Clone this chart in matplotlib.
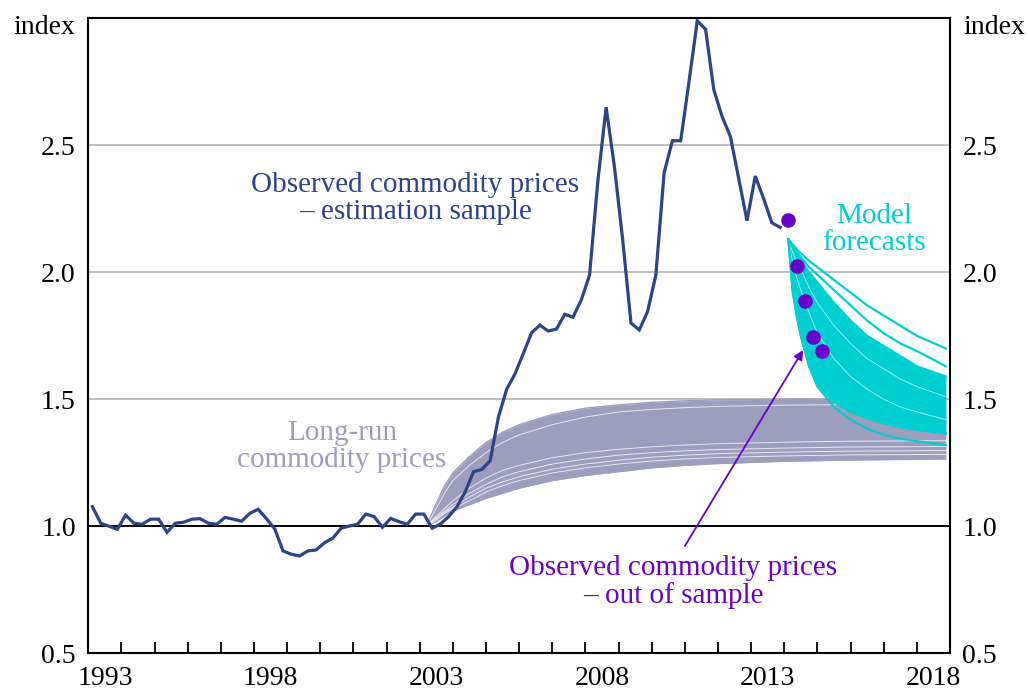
import numpy as np
import matplotlib.pyplot as plt
from matplotlib.ticker import FixedLocator, NullFormatter

# ---- data (index) ----
OBS_START = 1993.125  # quarterly, mid-quarter
observed = [1.077, 1.012, 1.000, 0.988, 1.044, 1.012, 1.008, 1.028, 1.028, 0.976,
            1.012, 1.016, 1.028, 1.030, 1.012, 1.008, 1.035, 1.028, 1.020, 1.051,
            1.067, 1.030, 0.990, 0.903, 0.890, 0.883, 0.903, 0.907, 0.935, 0.953,
            0.992, 1.001, 1.008, 1.048, 1.038, 0.996, 1.031, 1.018, 1.008, 1.048,
            1.048, 0.992, 1.009, 1.038, 1.077, 1.136, 1.215, 1.224, 1.258, 1.430,
            1.540, 1.600, 1.680, 1.762, 1.792, 1.769, 1.776, 1.835, 1.823, 1.891,
            1.989, 2.360, 2.650, 2.416, 2.127, 1.800, 1.773, 1.845, 1.989, 2.392,
            2.518, 2.518, 2.750, 2.990, 2.957, 2.718, 2.613, 2.534, 2.370, 2.203,
            2.379, 2.291, 2.195, 2.177]

oos_dates = [2014.125, 2014.375, 2014.625, 2014.875, 2015.125]
oos_values = [2.206, 2.025, 1.888, 1.746, 1.690]

# long-run commodity price fan (envelope + visible gaps between draws)
lr_dates = [2003.2, 2003.5, 2003.75, 2004.0, 2004.5, 2005.0, 2005.5, 2006.0, 2007.0,
            2008.0, 2009.0, 2010.0, 2011.0, 2012.0, 2014.0, 2016.0, 2018.875]
lr_upper = [1.0, 1.09, 1.16, 1.21, 1.275, 1.33, 1.37, 1.40, 1.44,
            1.465, 1.478, 1.488, 1.494, 1.498, 1.50, 1.50, 1.50]
lr_lower = [1.0, 1.02, 1.04, 1.06, 1.085, 1.11, 1.13, 1.15, 1.18,
            1.20, 1.215, 1.23, 1.24, 1.247, 1.256, 1.261, 1.265]
lr_gaps = [
    [1.0, 1.04, 1.07, 1.10, 1.15, 1.19, 1.22, 1.24, 1.27, 1.29, 1.303, 1.313, 1.32, 1.325, 1.331, 1.335, 1.337],
    [1.0, 1.035, 1.06, 1.085, 1.13, 1.165, 1.195, 1.215, 1.245, 1.265, 1.28, 1.29, 1.297, 1.302, 1.308, 1.312, 1.314],
    [1.0, 1.03, 1.055, 1.075, 1.115, 1.15, 1.175, 1.195, 1.225, 1.245, 1.26, 1.272, 1.28, 1.286, 1.292, 1.296, 1.298],
    [1.0, 1.025, 1.05, 1.07, 1.10, 1.135, 1.16, 1.18, 1.21, 1.23, 1.245, 1.257, 1.265, 1.271, 1.277, 1.281, 1.283],
    [1.0, 1.07, 1.13, 1.18, 1.24, 1.29, 1.33, 1.36, 1.40, 1.43, 1.45, 1.46, 1.467, 1.472, 1.477, 1.479, 1.48],
]

# model forecasts fan
fc_dates = [2014.125, 2014.25, 2014.375, 2014.5, 2014.75, 2015.0, 2015.5, 2016.0,
            2016.5, 2017.0, 2017.5, 2018.0, 2018.875]
fc_top1 = [2.13, 2.11, 2.09, 2.075, 2.045, 2.02, 1.97, 1.92, 1.87, 1.83, 1.79, 1.75, 1.70]
fc_top2 = [2.13, 2.10, 2.08, 2.06, 2.02, 1.99, 1.93, 1.87, 1.81, 1.76, 1.72, 1.69, 1.63]
fc_band_upper = [2.13, 2.10, 2.07, 2.05, 2.00, 1.96, 1.88, 1.81, 1.75, 1.71, 1.67, 1.63, 1.59]
fc_band_lower = [2.13, 1.93, 1.83, 1.75, 1.63, 1.555, 1.49, 1.45, 1.425, 1.405, 1.39, 1.38, 1.365]
fc_lowest = [2.13, 1.93, 1.83, 1.75, 1.63, 1.55, 1.47, 1.42, 1.385, 1.36, 1.345, 1.335, 1.32]
fc_gaps = [
    [2.13, 2.08, 2.04, 2.01, 1.94, 1.88, 1.79, 1.72, 1.66, 1.62, 1.58, 1.55, 1.51],
    [2.13, 2.04, 1.98, 1.93, 1.84, 1.76, 1.66, 1.59, 1.54, 1.50, 1.47, 1.45, 1.42],
]

year_labels = [1993, 1998, 2003, 2008, 2013, 2018]
y_ticks = [0.5, 1.0, 1.5, 2.0, 2.5, 3.0]

# ---- colours ----
C_OBS = '#2c4488'
C_LR = '#9d9dbd'
C_FC = '#00cfd2'
C_OOS = '#6a00cc'

plt.rcParams['font.family'] = ['Liberation Serif', 'DejaVu Serif']

fig = plt.figure(figsize=(10.28, 6.91), dpi=100)
ax = fig.add_axes([0.0859, 0.0546, 0.8382, 0.9189])

ax.set_xlim(1993, 2019)
ax.set_ylim(0.5, 3.0)

# grid lines
for g in [1.5, 2.0, 2.5]:
    ax.axhline(g, color='#b4b4b4', lw=1.2, zorder=0)
ax.axhline(1.0, color='black', lw=1.4, zorder=2)

# long-run fan
ax.fill_between(lr_dates, lr_lower, lr_upper, color=C_LR, lw=0, zorder=1)
ax.plot(lr_dates, lr_upper, color=C_LR, lw=1.0, zorder=1)
ax.plot(lr_dates, lr_lower, color=C_LR, lw=1.0, zorder=1)
for g in lr_gaps:
    ax.plot(lr_dates, g, color='white', lw=0.7, alpha=0.75, zorder=1.1)

# forecast fan
ax.fill_between(fc_dates, fc_band_lower, fc_band_upper, color=C_FC, lw=0, zorder=3)
for g in fc_gaps:
    ax.plot(fc_dates, g, color='white', lw=0.6, alpha=0.7, zorder=3.1)
for line in [fc_top1, fc_top2, fc_lowest, fc_band_upper, fc_band_lower]:
    ax.plot(fc_dates, line, color=C_FC, lw=1.6, zorder=3.2)

# observed
obs_dates = OBS_START + 0.25 * np.arange(len(observed))
ax.plot(obs_dates, observed, color=C_OBS, lw=2.3, zorder=4, solid_joinstyle='miter')
ax.plot(oos_dates, oos_values, 'o', color=C_OOS, ms=10.5, mec='none', zorder=5)

# annotations
ax.text(2002.86, 2.29, 'Observed commodity prices\n\u2013 estimation sample', color=C_OBS,
        fontsize=21, ha='center', va='center', linespacing=1.05)
ax.text(2000.65, 1.316, 'Long-run\ncommodity prices', color=C_LR,
        fontsize=21, ha='center', va='center', linespacing=1.05)
ax.text(2016.7, 2.17, 'Model\nforecasts', color=C_FC,
        fontsize=21, ha='center', va='center', linespacing=1.05)
ax.text(2010.64, 0.78, 'Observed commodity prices\n\u2013 out of sample', color=C_OOS,
        fontsize=21, ha='center', va='center', linespacing=1.05)
ax.annotate('', xy=(2014.57, 1.694), xytext=(2011.0, 0.922),
            arrowprops=dict(arrowstyle='-|>', color=C_OOS, lw=1.3, mutation_scale=14,
                            shrinkA=0, shrinkB=0), zorder=6)

# axes styling
for sp in ax.spines.values():
    sp.set_linewidth(1.5)
    sp.set_color('black')
    sp.set_zorder(7)

ax.xaxis.set_major_locator(FixedLocator([y + 0.5 for y in year_labels]))
ax.set_xticklabels([str(y) for y in year_labels])
ax.xaxis.set_minor_locator(FixedLocator(list(range(1994, 2019))))
ax.xaxis.set_minor_formatter(NullFormatter())
ax.tick_params(axis='x', which='major', length=0, pad=9, labelsize=20)
ax.tick_params(axis='x', which='minor', direction='in', length=8, width=1.3)

ax.set_yticks(y_ticks)
ax.set_yticklabels(['0.5', '1.0', '1.5', '2.0', '2.5', ''])
ax.tick_params(axis='y', length=0, pad=9, labelsize=20,
               left=False, right=False, labelleft=True, labelright=True)

fig.text(75 / 1028, 1 - 27 / 691, 'index', fontsize=20, ha='right', va='center')
fig.text(963 / 1028, 1 - 27 / 691, 'index', fontsize=20, ha='left', va='center')

fig.savefig('out.png', dpi=100)
